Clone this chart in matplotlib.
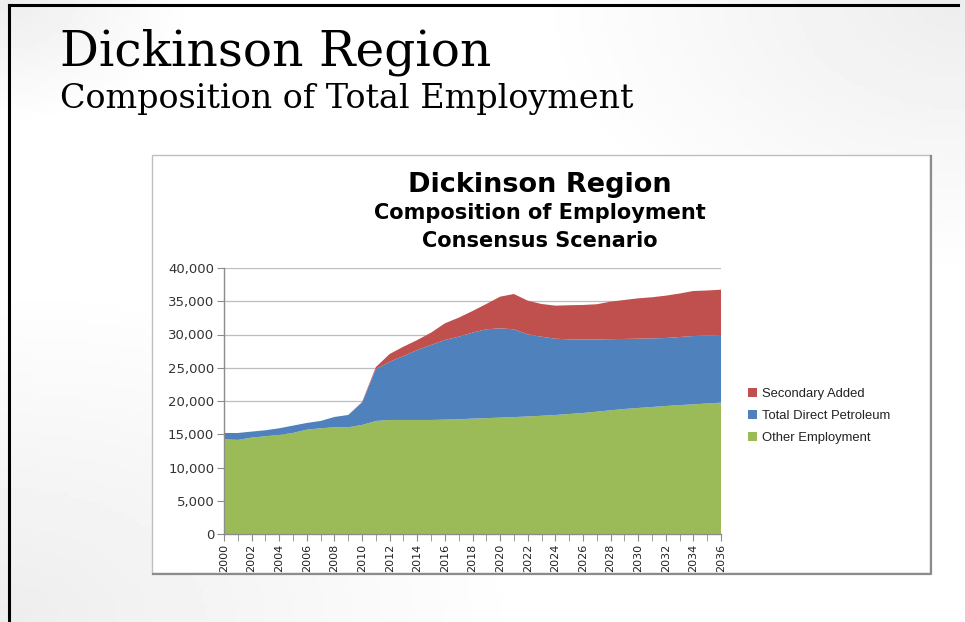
import numpy as np
import matplotlib
matplotlib.use("Agg")
import matplotlib.pyplot as plt
from matplotlib.patches import Rectangle
from matplotlib.lines import Line2D

# values (employment, persons)
years = list(range(2000, 2037))
other_employment = [14240, 14150, 14500, 14700, 14900, 15200, 15700, 15900, 16050, 16050,
                    16400, 17000, 17150, 17150, 17150, 17150, 17200, 17250, 17350, 17420,
                    17500, 17580, 17680, 17780, 17900, 18050, 18200, 18400, 18600, 18800,
                    18950, 19100, 19250, 19380, 19500, 19630, 19750]
direct_petroleum = [950, 1040, 900, 900, 1000, 1100, 1000, 1100, 1550, 1850,
                    3350, 7800, 8750, 9620, 10520, 11270, 11970, 12420, 12930, 13360,
                    13430, 13200, 12340, 11890, 11470, 11220, 11050, 10850, 10700, 10530,
                    10420, 10320, 10220, 10240, 10270, 10220, 10170]
secondary_added = [0, 0, 0, 0, 0, 0, 0, 0, 0, 0,
                   100, 300, 1170, 1400, 1500, 1860, 2510, 2860, 3250, 3810,
                   4760, 5310, 5070, 4920, 4970, 5130, 5190, 5300, 5640, 5860,
                   6070, 6180, 6370, 6540, 6770, 6770, 6820]
series_names = ["Other Employment", "Total Direct Petroleum", "Secondary Added"]
colors = ["#9BBB59", "#4F81BD", "#C0504D"]

W, H = 965, 622
fig = plt.figure(figsize=(W / 100, H / 100), dpi=100)

def fx(px):
    return px / W

def fy(py):
    return 1 - py / H

# slide background with faint gray corners
bg = fig.add_axes([0, 0, 1, 1])
gx, gy = np.meshgrid(np.linspace(0, 1, 200), np.linspace(0, 1, 130))
d1 = np.clip(1 - np.hypot(1 - gx, gy) / 0.45, 0, 1)        # top right
d2 = np.clip(1 - np.hypot(gx, 1 - gy) / 0.55, 0, 1)        # bottom left
d3 = np.clip(1 - np.hypot(gx, gy) / 0.2, 0, 1)             # top left
shade = 1 - 0.07 * np.maximum(np.maximum(d1, d2), d3)
bg.imshow(shade, cmap="gray", vmin=0, vmax=1, extent=[0, 1, 0, 1], aspect="auto")
bg.set_axis_off()

# slide border (left and top)
fig.add_artist(Line2D([fx(9), fx(9)], [fy(5), 0], color="black", lw=2.2))
fig.add_artist(Line2D([fx(9), fx(958)], [fy(5), fy(5)], color="black", lw=2.2))

# slide titles
serif = ["DejaVu Serif"]
fig.text(fx(60), fy(65), "Dickinson Region", fontsize=35, family=serif,
         va="baseline", ha="left", color="black")
fig.text(fx(60), fy(108), "Composition of Total Employment", fontsize=24, family=serif,
         va="baseline", ha="left", color="black")

# chart frame
fig.add_artist(Rectangle((fx(152), fy(573)), fx(930) - fx(152), fy(155) - fy(573),
                         facecolor="white", edgecolor="#bfbfbf", lw=1.0, zorder=1))
fig.add_artist(Line2D([fx(931), fx(931), fx(153)], [fy(156), fy(574), fy(574)],
                      color="#8c8c8c", lw=1.6, zorder=2))

sans = ["DejaVu Sans"]
fig.text(fx(540), fy(192), "Dickinson Region", fontsize=19.5, fontweight="bold",
         family=sans, ha="center", va="baseline", color="black", zorder=3)
fig.text(fx(540), fy(219), "Composition of Employment", fontsize=15, fontweight="bold",
         family=sans, ha="center", va="baseline", color="black", zorder=3)
fig.text(fx(540), fy(247), "Consensus Scenario", fontsize=15, fontweight="bold",
         family=sans, ha="center", va="baseline", color="black", zorder=3)

ax = fig.add_axes([fx(224), fy(534), fx(721) - fx(224), fy(268) - fy(534)])
ax.set_zorder(3)
ax.patch.set_alpha(0)
polys = ax.stackplot(years, other_employment, direct_petroleum, secondary_added,
                     colors=colors, labels=series_names, lw=0)
ax.set_xlim(2000, 2036)
ax.set_ylim(0, 40000)
ax.set_yticks(range(0, 40001, 5000))
ax.set_yticklabels([f"{v:,}" for v in range(0, 40001, 5000)])
ax.set_xticks(range(2000, 2037, 2))
ax.set_xticks(years, minor=True)
ax.set_xticklabels([str(y) for y in range(2000, 2037, 2)], rotation=90)
ax.grid(axis="y", color="#bdbdbd", lw=0.9)
ax.set_axisbelow(True)
for s in ["top", "right"]:
    ax.spines[s].set_visible(False)
for s in ["left", "bottom"]:
    ax.spines[s].set_color("#8c8c8c")
    ax.spines[s].set_linewidth(1.0)
ax.tick_params(axis="y", length=5, color="#8c8c8c", labelsize=9.5, labelcolor="#333333", pad=2)
ax.tick_params(axis="x", which="both", length=5, color="#8c8c8c", labelsize=8,
               labelcolor="#222222", pad=2)
for lab in ax.get_xticklabels():
    lab.set_family(["Liberation Sans Narrow", "DejaVu Sans"])
for lab in ax.get_yticklabels():
    lab.set_family(["DejaVu Sans"])

handles, labels = ax.get_legend_handles_labels()
leg = fig.legend(handles[::-1], labels[::-1], loc="center left",
                 bbox_to_anchor=(fx(736), fy(416)), frameon=False,
                 handlelength=0.7, handleheight=0.7,
                 handletextpad=0.4, labelspacing=0.75,
                 prop={"family": ["Liberation Sans", "DejaVu Sans"], "size": 9.4})
leg.set_zorder(4)
for t in leg.get_texts():
    t.set_color("#222222")

fig.savefig("out.png", dpi=100)
